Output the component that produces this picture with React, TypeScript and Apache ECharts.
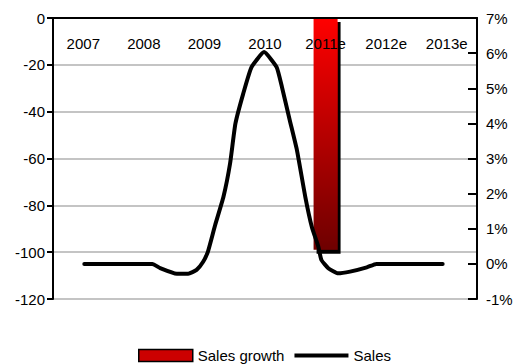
import React, { useEffect, useRef } from "react";
import * as echarts from "echarts";

// Year categories shown along the top axis
const years = ["2007", "2008", "2009", "2010", "2011e", "2012e", "2013e"];

// Sales growth bar (left axis), only the 2011e estimate is drawn
const salesGrowth: (number | string)[] = ["-", "-", "-", "-", -99, "-", "-"];

// Sales line (right axis, %), sampled along the year scale
const salesYear = [
  2007.0, 2008.14, 2008.27, 2008.55, 2008.74, 2008.88, 2008.99, 2009.07, 2009.14,
  2009.19, 2009.33, 2009.44, 2009.53, 2009.66, 2009.8, 2010.01, 2010.22, 2010.31,
  2010.44, 2010.56, 2010.7, 2010.81, 2010.92, 2010.97, 2011.09, 2011.25, 2011.45,
  2011.73, 2011.89, 2013.0,
];
const salesPct = [
  0, 0, -0.12, -0.28, -0.28, -0.17, 0.06, 0.35, 0.78, 1.1, 1.91, 2.85, 3.99, 4.84,
  5.6, 6.03, 5.6, 5.03, 4.09, 3.24, 1.91, 1.05, 0.48, 0.11, -0.13, -0.27, -0.22,
  -0.1, 0, 0,
];

// Axis ranges
const leftMin = -120;
const leftMax = 0;
const leftStep = 20;
const rightMin = -1;
const rightMax = 7;
const rightStep = 1;

const FONT = "'Liberation Sans', Arial, Helvetica, sans-serif";

export default function App() {
  const ref = useRef<HTMLDivElement>(null);

  useEffect(() => {
    if (!ref.current) return;
    const chart = echarts.init(ref.current, null, { renderer: "svg" });
    const linePoints = salesYear.map((y, i) => [y, salesPct[i]]);

    chart.setOption({
      animation: false,
      backgroundColor: "#ffffff",
      textStyle: { fontFamily: FONT, color: "#000" },
      grid: { left: 53, top: 18, width: 424, height: 281, containLabel: false },
      legend: {
        left: 133,
        top: 343,
        itemWidth: 54,
        itemHeight: 12,
        itemGap: 10,
        textStyle: { fontFamily: FONT, fontSize: 15, color: "#000" },
        data: [
          {
            name: "Sales growth",
            icon: "rect",
            itemStyle: { color: "#cc0000", borderColor: "#000", borderWidth: 1.5 },
          },
          {
            name: "Sales",
            icon: "path://M0,0 H54 V4 H0 Z",
            itemStyle: { color: "#000", borderWidth: 0 },
          },
        ],
      },
      xAxis: [
        {
          type: "category",
          data: years,
          position: "top",
          z: 10,
          axisLine: { lineStyle: { color: "#000", width: 2 } },
          axisTick: { inside: true, length: 6, lineStyle: { color: "#000", width: 2 } },
          axisLabel: {
            inside: true,
            margin: 18,
            fontSize: 15,
            color: "#000",
            fontFamily: FONT,
          },
          splitLine: { show: false },
        },
        {
          type: "value",
          show: false,
          min: 2006.476,
          max: 2013.575,
        },
      ],
      yAxis: [
        {
          type: "value",
          position: "left",
          min: leftMin,
          max: leftMax,
          interval: leftStep,
          axisLine: { show: true, lineStyle: { color: "#000", width: 2 } },
          axisTick: { show: true, length: 6, lineStyle: { color: "#000", width: 2 } },
          axisLabel: { fontSize: 15, color: "#000", margin: 8, fontFamily: FONT },
          splitLine: { show: true, lineStyle: { color: "#c4c4c4", width: 2 } },
        },
        {
          type: "value",
          position: "right",
          min: rightMin,
          max: rightMax,
          interval: rightStep,
          axisLine: { show: true, lineStyle: { color: "#000", width: 2 } },
          axisTick: {
            show: true,
            inside: true,
            length: 9,
            lineStyle: { color: "#000", width: 2 },
          },
          axisLabel: {
            fontSize: 15,
            color: "#000",
            margin: 9,
            fontFamily: FONT,
            formatter: "{value}%",
          },
          splitLine: { show: false },
        },
      ],
      series: [
        {
          name: "Sales growth",
          type: "bar",
          xAxisIndex: 0,
          yAxisIndex: 0,
          barWidth: 24,
          data: salesGrowth,
          itemStyle: {
            color: new echarts.graphic.LinearGradient(0, 0, 0, 1, [
              { offset: 0, color: "#ff0000" },
              { offset: 1, color: "#6e0000" },
            ]),
            shadowColor: "#000",
            shadowBlur: 0,
            shadowOffsetX: 3,
            shadowOffsetY: 4,
          },
        },
        {
          name: "Sales",
          type: "line",
          xAxisIndex: 1,
          yAxisIndex: 1,
          data: linePoints,
          showSymbol: false,
          symbol: "none",
          smooth: 0.15,
          lineStyle: { color: "#000", width: 4, join: "round", cap: "round" },
          itemStyle: { color: "#000" },
          z: 3,
        },
      ],
    });

    return () => chart.dispose();
  }, []);

  return (
    <div
      ref={ref}
      style={{ position: "fixed", left: 0, top: 0, width: 517, height: 364, background: "#fff" }}
    />
  );
}
